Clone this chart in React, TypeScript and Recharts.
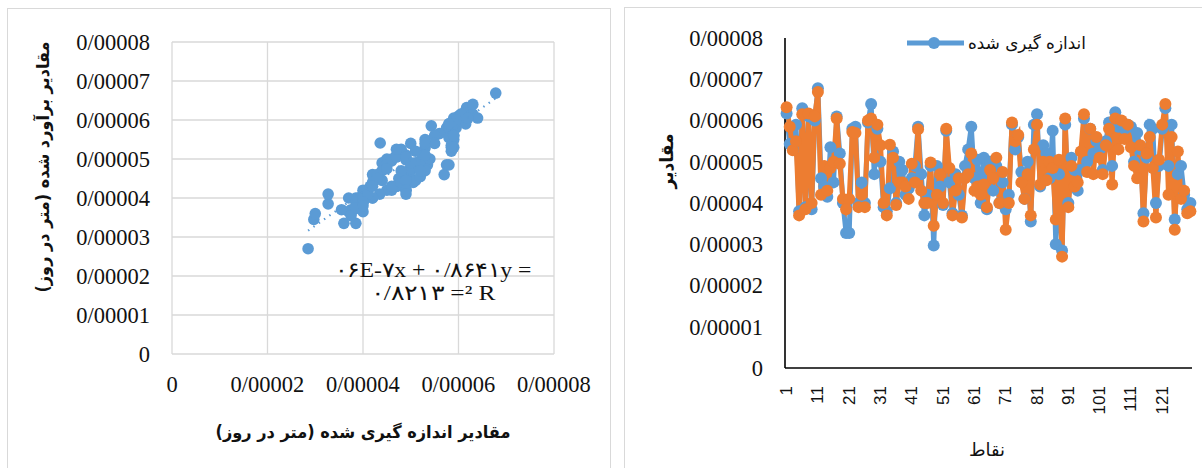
import React from 'react';
import {
    ScatterChart, Scatter, LineChart, Line, XAxis, YAxis, CartesianGrid,
} from 'recharts';

// values in units of 1e-5 m/day, points 1..130
const measured = [
    6.17, 5.43, 5.30, 5.90, 3.80, 6.30, 3.90, 6.10, 3.85, 6.00,
    6.78, 4.60, 4.40, 4.15, 5.35, 4.50, 6.10, 5.20, 4.00, 3.27,
    3.27, 5.80, 5.85, 4.00, 4.50, 4.00, 5.95, 6.40, 4.70, 5.80,
    5.00, 3.90, 3.80, 4.36, 5.25, 4.00, 5.00, 4.80, 4.20, 4.35,
    4.60, 4.90, 5.85, 4.70, 3.70, 4.20, 4.90, 2.97, 4.90, 4.40,
    3.95, 5.75, 4.50, 3.75, 4.70, 4.20, 3.70, 4.90, 5.30, 5.85,
    4.60, 5.05, 4.00, 5.10, 3.85, 5.00, 4.30, 4.90, 4.00, 4.50,
    3.85, 4.20, 5.90, 5.30, 5.60, 4.75, 4.10, 5.00, 3.55, 5.90,
    6.15, 4.40, 5.40, 5.20, 4.60, 5.75, 3.00, 4.70, 2.85, 5.90,
    4.00, 5.10, 4.80, 4.30, 4.80, 6.05, 5.00, 5.80, 5.20, 5.50,
    5.30, 4.80, 5.50, 5.95, 4.90, 6.20, 5.85, 5.95, 5.80, 5.90,
    5.85, 5.00, 5.70, 5.30, 3.75, 5.10, 5.90, 5.80, 4.00, 4.90,
    5.80, 6.30, 4.90, 5.90, 3.60, 4.70, 4.90, 4.20, 3.85, 4.00,
];

const estimated = [
    6.32, 5.85, 5.28, 5.50, 3.70, 6.15, 3.85, 6.17, 4.00, 6.10,
    6.69, 4.20, 4.90, 4.30, 4.85, 5.00, 6.05, 4.95, 4.10, 3.85,
    4.10, 5.72, 5.70, 3.90, 4.20, 3.90, 6.00, 6.05, 5.10, 5.90,
    5.40, 4.00, 3.70, 5.41, 5.10, 3.95, 4.50, 4.50, 4.40, 4.10,
    4.95, 4.50, 5.79, 4.30, 4.00, 4.00, 4.98, 3.45, 4.20, 4.70,
    4.00, 5.80, 4.85, 3.70, 4.30, 4.60, 3.65, 4.60, 4.70, 5.20,
    4.30, 4.40, 4.20, 4.45, 3.90, 4.80, 4.60, 5.10, 4.00, 4.75,
    3.35, 4.00, 5.95, 5.50, 5.65, 4.50, 4.10, 4.70, 3.70, 5.30,
    5.90, 4.45, 5.00, 4.55, 5.00, 4.85, 3.60, 5.05, 2.70, 6.05,
    3.90, 4.90, 4.40, 4.50, 5.25, 6.15, 4.75, 5.80, 4.70, 5.60,
    5.10, 4.70, 5.40, 5.80, 4.45, 6.05, 5.30, 6.00, 5.55, 5.90,
    5.35, 4.90, 4.60, 5.40, 3.55, 5.20, 5.60, 4.85, 3.65, 5.05,
    5.90, 6.40, 4.20, 5.60, 3.35, 5.25, 4.10, 4.30, 3.75, 3.80,
];

const valueTicks = [0, 1, 2, 3, 4, 5, 6, 7, 8];
const measuredTicks = [0, 2, 4, 6, 8];

// trendline shown in the chart: y = 0.8641x + 7E-06, R² = 0.8213
const slope = 0.8641;
const intercept = 0.7;

const BLUE = '#5b9bd5';
const ORANGE = '#ed7d31';
const SERIF = "'Liberation Serif', 'Times New Roman', serif";
const FA = "'DejaVu Sans', sans-serif";

const fmt = (v: number) => (v === 0 ? '0' : `0/0000${v}`);

const scatterData = measured.map((m, i) => ({ x: m, y: estimated[i] }));
const minX = Math.min(...measured);
const maxX = Math.max(...measured);
const trendData = [
    { x: minX, y: slope * minX + intercept },
    { x: maxX, y: slope * maxX + intercept },
];

const lineData = measured.map((m, i) => ({ n: i + 1, measured: m, estimated: estimated[i] }));

const tickStyle = { fontSize: 22.5, fontFamily: SERIF, fill: '#111' };

const RotTick = (props: any) => {
    const { x, y, payload } = props;
    return (
        <text x={x} y={y} transform={`rotate(-90, ${x}, ${y})`} textAnchor="end"
            dominantBaseline="central" fontSize={17} fontFamily="'Liberation Sans', sans-serif" fill="#111">
            {payload.value}
        </text>
    );
};

const Dot = (props: any) => {
    const { cx, cy } = props;
    return <circle cx={cx} cy={cy} r={5.8} fill={BLUE} />;
};

export default function App() {
    return (
        <div style={{ position: 'fixed', left: 0, top: 0, width: 1202, height: 468, background: '#fff', overflow: 'hidden' }}>
            <div style={{ position: 'absolute', left: 0, top: 0 }}>
                <ScatterChart width={612} height={468} margin={{ top: 42, right: 58, bottom: 84, left: 0 }}>
                    <CartesianGrid stroke="#d9d9d9" strokeWidth={1.3} />
                    <XAxis type="number" dataKey="x" domain={[0, 8]} ticks={measuredTicks} tickFormatter={fmt}
                        axisLine={false} tickLine={false} tickSize={0} tickMargin={22} height={30} tick={tickStyle} />
                    <YAxis type="number" dataKey="y" domain={[0, 8]} ticks={valueTicks} tickFormatter={fmt}
                        axisLine={false} tickLine={false} tickSize={0} tickMargin={22} width={172} tick={tickStyle} />
                    <Scatter data={scatterData} shape={Dot} isAnimationActive={false} />
                    <Scatter data={trendData} shape={() => <g />} line={{ stroke: BLUE, strokeWidth: 2.2, strokeDasharray: '1.5 5' }}
                        isAnimationActive={false} />
                </ScatterChart>
            </div>
            <div style={{ position: 'absolute', left: 624, top: 0 }}>
                <LineChart width={578} height={468} data={lineData} margin={{ top: 38, right: 10, bottom: 60, left: 0 }}>
                    <XAxis dataKey="n" interval={9} tick={<RotTick />} tickLine={false} tickSize={0} tickMargin={18}
                        axisLine={{ stroke: '#000', strokeWidth: 1.6 }} padding={{ left: 1.6, right: 1.6 }} height={40} />
                    <YAxis type="number" domain={[0, 8]} ticks={valueTicks} tickFormatter={fmt}
                        axisLine={{ stroke: '#000', strokeWidth: 1.6 }} tickLine={false} tickSize={0} tickMargin={22}
                        width={161} tick={tickStyle} />
                    <Line dataKey="measured" stroke={BLUE} strokeWidth={5}
                        dot={{ r: 6, fill: BLUE, stroke: BLUE, strokeWidth: 0 }} isAnimationActive={false} />
                    <Line dataKey="estimated" stroke={ORANGE} strokeWidth={5}
                        dot={{ r: 6, fill: ORANGE, stroke: ORANGE, strokeWidth: 0 }} isAnimationActive={false} />
                </LineChart>
            </div>
            <svg width={1202} height={468} style={{ position: 'absolute', left: 0, top: 0, pointerEvents: 'none' }}>
                <rect x={7.5} y={8.5} width={603} height={470} fill="none" stroke="#d9d9d9" />
                <rect x={624.5} y={7.5} width={600} height={470} fill="none" stroke="#d9d9d9" />

                <text x={433} y={270} textAnchor="middle" dominantBaseline="central" fontSize={21}
                    style={{ fontFamily: SERIF }}
                    direction="ltr" unicodeBidi="bidi-override" textLength={197} lengthAdjust="spacingAndGlyphs" fill="#111">
                    ۰۶E-۷x + ۰/۸۶۴۱y =
                </text>
                <text x={433} y={293} textAnchor="middle" dominantBaseline="central" fontSize={21}
                    style={{ fontFamily: SERIF }}
                    direction="ltr" unicodeBidi="bidi-override" textLength={125} lengthAdjust="spacingAndGlyphs" fill="#111">
                    ۰/۸۲۱۳ =² R
                </text>

                <text x={43} y={167} transform="rotate(-90, 43, 167)" textAnchor="middle" dominantBaseline="central"
                    fontSize={17} fontWeight="bold" fontFamily={FA} textLength={251} lengthAdjust="spacingAndGlyphs" fill="#111">
                    مقادیر برآورد شده (متر در روز)
                </text>
                <text x={363} y={432} textAnchor="middle" dominantBaseline="central" fontSize={17} fontWeight="bold"
                    fontFamily={FA} textLength={295} lengthAdjust="spacingAndGlyphs" fill="#111">
                    مقادیر اندازه گیری شده (متر در روز)
                </text>

                <text x={666} y={161} transform="rotate(-90, 666, 161)" textAnchor="middle" dominantBaseline="central"
                    fontSize={18} fontWeight="bold" fontFamily={FA} textLength={55} lengthAdjust="spacingAndGlyphs" fill="#111">
                    مقادیر
                </text>
                <text x={987} y={449} textAnchor="middle" dominantBaseline="central" fontSize={18}
                    fontFamily={FA} textLength={36} lengthAdjust="spacingAndGlyphs" fill="#111">
                    نقاط
                </text>

                <line x1={907} y1={43} x2={964} y2={43} stroke={BLUE} strokeWidth={5} />
                <circle cx={934} cy={43} r={6} fill={BLUE} />
                <text x={1027} y={43} textAnchor="middle" dominantBaseline="central" fontSize={17}
                    fontFamily={FA} textLength={118} lengthAdjust="spacingAndGlyphs" fill="#111">
                    اندازه گیری شده
                </text>
            </svg>
        </div>
    );
}
